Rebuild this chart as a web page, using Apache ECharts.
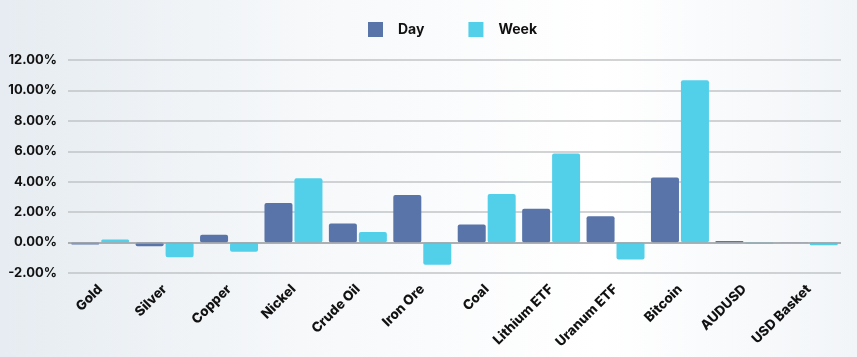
<!DOCTYPE html>
<html><head><meta charset="utf-8">
<script src="https://cdn.jsdelivr.net/npm/echarts@6/dist/echarts.min.js"></script>
<style>html,body{margin:0;padding:0;}#c{width:857px;height:357px;}</style>
</head><body><div id="c"></div>
<script>
const categories = ['Gold','Silver','Copper','Nickel','Crude Oil','Iron Ore','Coal','Lithium ETF','Uranum ETF','Bitcoin','AUDUSD','USD Basket'];
const dayValues = [-0.12,-0.24,0.52,2.60,1.25,3.13,1.18,2.23,1.73,4.28,0.10,0.02];
const weekValues = [0.20,-0.96,-0.61,4.22,0.70,-1.46,3.19,5.86,-1.11,10.67,-0.08,-0.18];
const yTicks = {min:-2,max:12,interval:2};

const font = 'Inter, "Noto Sans", sans-serif';
const chart = echarts.init(document.getElementById('c'));
chart.setOption({
  backgroundColor: new echarts.graphic.LinearGradient(0,0,1,0,[
    {offset:0,color:'#e6ecf1'},{offset:0.35,color:'#f6f8fa'},{offset:0.7,color:'#ffffff'},{offset:1,color:'#f2f5f8'}]),
  animation:false,
  textStyle:{fontFamily:font},
  legend:{
    top:17, left:363, itemWidth:15, itemHeight:15, itemGap:44,
    icon:'rect',
    textStyle:{fontSize:14,fontWeight:'bold',color:'#111',padding:[0,0,0,10]},
    data:['Day','Week']
  },
  grid:{left:68,right:16,top:60,bottom:84},
  xAxis:{
    type:'category', data:categories,
    axisLine:{show:false,onZero:false}, axisTick:{show:false},
    axisLabel:{rotate:45,fontSize:13.5,fontWeight:800,color:'#111',margin:14,interval:0}
  },
  yAxis:{
    type:'value', min:yTicks.min, max:yTicks.max, interval:yTicks.interval,
    axisLabel:{formatter:v=>v.toFixed(2)+'%',fontSize:13,fontWeight:'bold',color:'#111',margin:11},
    splitLine:{lineStyle:{color:'#c2c4c7',width:1.5}},
    axisLine:{show:false}, axisTick:{show:false}
  },
  series:[
    {name:'Day',type:'bar',data:dayValues,barGap:'7%',barCategoryGap:'10%',
     itemStyle:{color:'#5874a9',borderRadius:2},
     markLine:{silent:true,symbol:'none',label:{show:false},lineStyle:{color:'#a2a4a7',type:'solid',width:1.5},data:[{yAxis:0}]}},
    {name:'Week',type:'bar',data:weekValues,
     itemStyle:{color:'#52d0ea',borderRadius:2}}
  ]
});
</script></body></html>
